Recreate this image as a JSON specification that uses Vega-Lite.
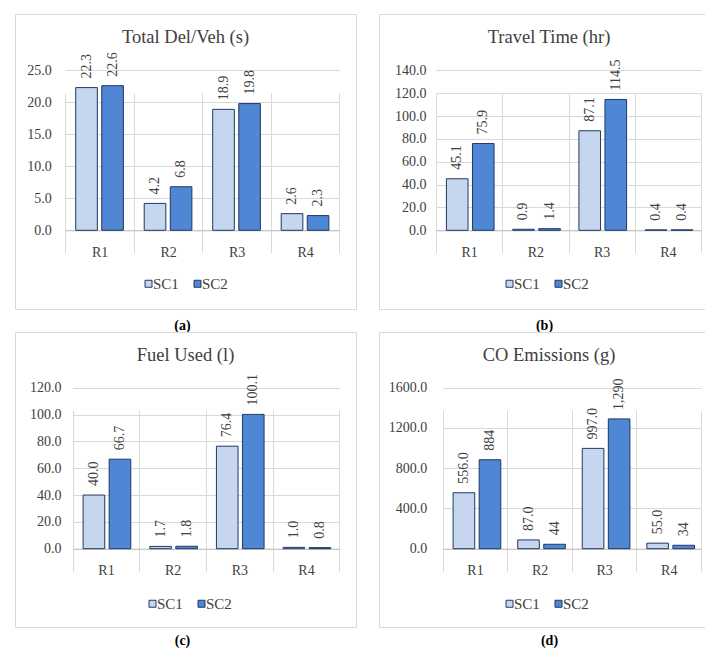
{
  "$schema": "https://vega.github.io/schema/vega-lite/v6.json",
  "padding": {"left": 14, "top": 13, "right": 0, "bottom": 0},
  "autosize": {"type": "pad"},
  "background": "white",
  "datasets": {
    "del": [
      {"region": "R1", "scenario": "SC1", "value": 22.3, "label": "22.3"},
      {"region": "R1", "scenario": "SC2", "value": 22.6, "label": "22.6"},
      {"region": "R2", "scenario": "SC1", "value": 4.2, "label": "4.2"},
      {"region": "R2", "scenario": "SC2", "value": 6.8, "label": "6.8"},
      {"region": "R3", "scenario": "SC1", "value": 18.9, "label": "18.9"},
      {"region": "R3", "scenario": "SC2", "value": 19.8, "label": "19.8"},
      {"region": "R4", "scenario": "SC1", "value": 2.6, "label": "2.6"},
      {"region": "R4", "scenario": "SC2", "value": 2.3, "label": "2.3"}
    ],
    "tt": [
      {"region": "R1", "scenario": "SC1", "value": 45.1, "label": "45.1"},
      {"region": "R1", "scenario": "SC2", "value": 75.9, "label": "75.9"},
      {"region": "R2", "scenario": "SC1", "value": 0.9, "label": "0.9"},
      {"region": "R2", "scenario": "SC2", "value": 1.4, "label": "1.4"},
      {"region": "R3", "scenario": "SC1", "value": 87.1, "label": "87.1"},
      {"region": "R3", "scenario": "SC2", "value": 114.5, "label": "114.5"},
      {"region": "R4", "scenario": "SC1", "value": 0.4, "label": "0.4"},
      {"region": "R4", "scenario": "SC2", "value": 0.4, "label": "0.4"}
    ],
    "fuel": [
      {"region": "R1", "scenario": "SC1", "value": 40.0, "label": "40.0"},
      {"region": "R1", "scenario": "SC2", "value": 66.7, "label": "66.7"},
      {"region": "R2", "scenario": "SC1", "value": 1.7, "label": "1.7"},
      {"region": "R2", "scenario": "SC2", "value": 1.8, "label": "1.8"},
      {"region": "R3", "scenario": "SC1", "value": 76.4, "label": "76.4"},
      {"region": "R3", "scenario": "SC2", "value": 100.1, "label": "100.1"},
      {"region": "R4", "scenario": "SC1", "value": 1.0, "label": "1.0"},
      {"region": "R4", "scenario": "SC2", "value": 0.8, "label": "0.8"}
    ],
    "co": [
      {"region": "R1", "scenario": "SC1", "value": 556.0, "label": "556.0"},
      {"region": "R1", "scenario": "SC2", "value": 884, "label": "884"},
      {"region": "R2", "scenario": "SC1", "value": 87.0, "label": "87.0"},
      {"region": "R2", "scenario": "SC2", "value": 44, "label": "44"},
      {"region": "R3", "scenario": "SC1", "value": 997.0, "label": "997.0"},
      {"region": "R3", "scenario": "SC2", "value": 1290, "label": "1,290"},
      {"region": "R4", "scenario": "SC1", "value": 55.0, "label": "55.0"},
      {"region": "R4", "scenario": "SC2", "value": 34, "label": "34"}
    ]
  },
  "columns": 2,
  "spacing": 23,
  "bounds": "flush",
  "resolve": {"scale": {"color": "independent"}, "legend": {"color": "independent"}},
  "concat": [
    {
      "width": 341, "height": 295,
      "title": {"text": "Total Del/Veh (s)", "offset": -32, "font": "Liberation Serif", "fontSize": 18.5, "fontWeight": "normal", "color": "#404040"},
      "data": {"name": "del"},
      "encoding": {
        "x": {"field": "region", "type": "nominal", "sort": null,
          "scale": {"range": [50.3, 324.3], "paddingInner": 0, "paddingOuter": 0},
          "axis": {"orient": "bottom", "offset": -78.7, "labelFont": "Liberation Serif", "labelFontSize": 14, "titleFont": "Liberation Serif", "title": "(a)", "titleX": 167, "titleY": 99}},
        "xOffset": {"field": "scenario", "type": "nominal", "sort": null, "scale": {"paddingInner": 0.17, "paddingOuter": 0.4}},
        "y": {"field": "value", "type": "quantitative",
          "scale": {"domain": [0, 25], "nice": false, "range": [216.3, 56.3]},
          "axis": {"offset": -50.3, "values": [0, 5, 10, 15, 20, 25], "format": ".1f", "labelFont": "Liberation Serif", "labelFontSize": 14, "labelPadding": 14, "title": null}}
      },
      "layer": [
        {"mark": {"type": "bar", "stroke": "#1F3864", "strokeWidth": 1},
         "encoding": {"color": {"field": "scenario", "type": "nominal",
           "scale": {"domain": ["SC1", "SC2"], "range": ["#C7D6EF", "#4F87D4"]},
           "legend": {"legendX": 126, "legendY": 262, "labelFont": "Liberation Serif", "labelFontSize": 15}}}},
        {"mark": {"type": "text", "angle": 270, "align": "left", "baseline": "middle", "dx": 9, "font": "Liberation Serif", "fontSize": 14, "color": "#404040"},
         "encoding": {"text": {"field": "label"}}}
      ]
    },
    {
      "width": 327, "height": 295,
      "title": {"text": "Travel Time (hr)", "offset": -32, "dx": 6.5, "font": "Liberation Serif", "fontSize": 18.5, "fontWeight": "normal", "color": "#404040"},
      "data": {"name": "tt"},
      "encoding": {
        "x": {"field": "region", "type": "nominal", "sort": null,
          "scale": {"range": [57, 322], "paddingInner": 0, "paddingOuter": 0},
          "axis": {"orient": "bottom", "offset": -78.7, "labelFont": "Liberation Serif", "labelFontSize": 14, "titleFont": "Liberation Serif", "title": "(b)", "titleX": 165, "titleY": 99}},
        "xOffset": {"field": "scenario", "type": "nominal", "sort": null, "scale": {"paddingInner": 0.17, "paddingOuter": 0.4}},
        "y": {"field": "value", "type": "quantitative",
          "scale": {"domain": [0, 140], "nice": false, "range": [216.3, 56.3]},
          "axis": {"offset": -57, "values": [0, 20, 40, 60, 80, 100, 120, 140], "format": ".1f", "labelFont": "Liberation Serif", "labelFontSize": 14, "labelPadding": 10, "title": null}}
      },
      "layer": [
        {"mark": {"type": "bar", "stroke": "#1F3864", "strokeWidth": 1},
         "encoding": {"color": {"field": "scenario", "type": "nominal",
           "scale": {"domain": ["SC1", "SC2"], "range": ["#C7D6EF", "#4F87D4"]},
           "legend": {"legendX": 123, "legendY": 262, "labelFont": "Liberation Serif", "labelFontSize": 15}}}},
        {"mark": {"type": "text", "angle": 270, "align": "left", "baseline": "middle", "dx": 9, "font": "Liberation Serif", "fontSize": 14, "color": "#404040"},
         "encoding": {"text": {"field": "label"}}}
      ]
    },
    {
      "width": 341, "height": 295,
      "title": {"text": "Fuel Used (l)", "offset": -32, "font": "Liberation Serif", "fontSize": 18.5, "fontWeight": "normal", "color": "#404040"},
      "data": {"name": "fuel"},
      "encoding": {
        "x": {"field": "region", "type": "nominal", "sort": null,
          "scale": {"range": [57.7, 324.3], "paddingInner": 0, "paddingOuter": 0},
          "axis": {"orient": "bottom", "offset": -78.3, "labelFont": "Liberation Serif", "labelFontSize": 14, "titleFont": "Liberation Serif", "title": "(c)", "titleX": 167, "titleY": 96}},
        "xOffset": {"field": "scenario", "type": "nominal", "sort": null, "scale": {"paddingInner": 0.17, "paddingOuter": 0.4}},
        "y": {"field": "value", "type": "quantitative",
          "scale": {"domain": [0, 120], "nice": false, "range": [216.7, 55.7]},
          "axis": {"offset": -57.7, "values": [0, 20, 40, 60, 80, 100, 120], "format": ".1f", "labelFont": "Liberation Serif", "labelFontSize": 14, "labelPadding": 11.7, "title": null}}
      },
      "layer": [
        {"mark": {"type": "bar", "stroke": "#1F3864", "strokeWidth": 1},
         "encoding": {"color": {"field": "scenario", "type": "nominal",
           "scale": {"domain": ["SC1", "SC2"], "range": ["#C7D6EF", "#4F87D4"]},
           "legend": {"legendX": 130, "legendY": 264, "labelFont": "Liberation Serif", "labelFontSize": 15}}}},
        {"mark": {"type": "text", "angle": 270, "align": "left", "baseline": "middle", "dx": 9, "font": "Liberation Serif", "fontSize": 14, "color": "#404040"},
         "encoding": {"text": {"field": "label"}}}
      ]
    },
    {
      "width": 327, "height": 295,
      "title": {"text": "CO Emissions (g)", "offset": -32, "dx": 6.5, "font": "Liberation Serif", "fontSize": 18.5, "fontWeight": "normal", "color": "#404040"},
      "data": {"name": "co"},
      "encoding": {
        "x": {"field": "region", "type": "nominal", "sort": null,
          "scale": {"range": [63.7, 322], "paddingInner": 0, "paddingOuter": 0},
          "axis": {"orient": "bottom", "offset": -78.3, "labelFont": "Liberation Serif", "labelFontSize": 14, "titleFont": "Liberation Serif", "title": "(d)", "titleX": 170, "titleY": 96}},
        "xOffset": {"field": "scenario", "type": "nominal", "sort": null, "scale": {"paddingInner": 0.17, "paddingOuter": 0.4}},
        "y": {"field": "value", "type": "quantitative",
          "scale": {"domain": [0, 1600], "nice": false, "range": [216.7, 55.7]},
          "axis": {"offset": -63.7, "values": [0, 400, 800, 1200, 1600], "format": ".1f", "labelFont": "Liberation Serif", "labelFontSize": 14, "labelPadding": 16, "title": null}}
      },
      "layer": [
        {"mark": {"type": "bar", "stroke": "#1F3864", "strokeWidth": 1},
         "encoding": {"color": {"field": "scenario", "type": "nominal",
           "scale": {"domain": ["SC1", "SC2"], "range": ["#C7D6EF", "#4F87D4"]},
           "legend": {"legendX": 123, "legendY": 264, "labelFont": "Liberation Serif", "labelFontSize": 15}}}},
        {"mark": {"type": "text", "angle": 270, "align": "left", "baseline": "middle", "dx": 9, "font": "Liberation Serif", "fontSize": 14, "color": "#404040"},
         "encoding": {"text": {"field": "label"}}}
      ]
    }
  ],
  "config": {
    "font": "Liberation Serif",
    "view": {"stroke": "#D9D9D9", "strokeWidth": 1},
    "axis": {"labelColor": "#404040", "gridColor": "#D9D9D9", "gridWidth": 1, "grid": true, "ticks": false, "tickSize": 0, "domain": false, "titleColor": "#000000"},
    "axisX": {"labelAngle": 0, "labelBaseline": "alphabetic", "labelPadding": 25.7, "tickBand": "extent", "domain": true, "domainColor": "#BFBFBF", "domainWidth": 1, "titleFontSize": 14, "titleFontWeight": "bold", "titleBaseline": "alphabetic", "titleAlign": "center"},
    "legend": {"orient": "none", "direction": "horizontal", "title": null, "symbolType": "square", "symbolSize": 49, "symbolStrokeColor": "#1F3864", "symbolStrokeWidth": 1, "labelColor": "#404040", "labelOffset": -3, "columnPadding": 11, "padding": 0},
    "title": {"frame": "group", "anchor": "middle", "baseline": "alphabetic"}
  }
}
